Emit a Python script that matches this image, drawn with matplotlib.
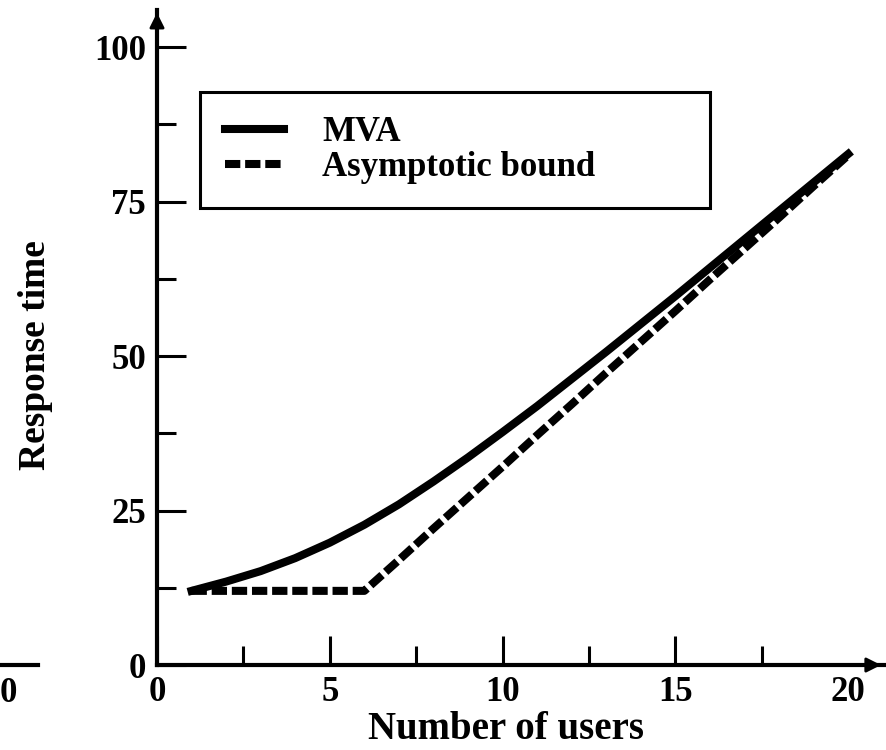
import matplotlib.pyplot as plt
from matplotlib.lines import Line2D
from matplotlib.ticker import MultipleLocator

# values
users = list(range(1, 21))
mva = [12.0, 13.5, 15.2, 17.3, 19.8, 22.7, 26.0, 29.7, 33.6, 37.7,
       41.9, 46.3, 50.7, 55.2, 59.7, 64.3, 68.9, 73.5, 78.1, 82.7]
bound = [12.0, 12.0, 12.0, 12.0, 12.0, 12.0, 17.0, 22.1, 27.1, 32.1,
         37.2, 42.2, 47.3, 52.3, 57.3, 62.4, 67.4, 72.4, 77.5, 82.5]
x_ticks = [0, 5, 10, 15, 20]
y_ticks = [0, 25, 50, 75, 100]

plt.rcParams['font.family'] = ['Liberation Serif', 'DejaVu Serif']
plt.rcParams['font.weight'] = 'bold'
plt.rcParams['axes.labelweight'] = 'bold'

fig = plt.figure(figsize=(8.86, 7.5), dpi=100)
ax = fig.add_axes([0.1772, 0.1133, 0.827, 0.8734])

ax.plot(users, mva, color='black', lw=5.8, label='MVA')
ax.plot(users, bound, color='black', lw=5.8, linestyle=(0, (1.9, 0.6)),
        label='Asymptotic bound')

ax.set_xlim(0, 21.2)
ax.set_ylim(0, 106)
ax.set_xticks(x_ticks)
ax.set_yticks(y_ticks)
ax.xaxis.set_minor_locator(MultipleLocator(2.5))
ax.yaxis.set_minor_locator(MultipleLocator(12.5))
ax.tick_params(which='both', direction='in', width=2.2, labelsize=25)
ax.tick_params(which='major', length=21)
ax.tick_params(which='minor', length=14)
ax.tick_params(axis='x', pad=8)
ax.tick_params(axis='y', pad=8)
ax.xaxis.get_major_ticks()[-1].tick1line.set_visible(False)

for side in ['top', 'right']:
    ax.spines[side].set_visible(False)
for side in ['left', 'bottom']:
    ax.spines[side].set_linewidth(3)

# arrow heads on the axes
ax.annotate('', xy=(0, 1.0), xycoords='axes fraction', xytext=(0, 0.96),
            arrowprops=dict(arrowstyle='-|>', color='black', lw=2, mutation_scale=22),
            annotation_clip=False)
ax.annotate('', xy=(0.992, 0), xycoords='axes fraction', xytext=(0.97, 0),
            arrowprops=dict(arrowstyle='-|>', color='black', lw=2, mutation_scale=22),
            annotation_clip=False)

ax.set_xlabel('Number of users', fontsize=28)
ax.xaxis.set_label_coords(0.476, -0.07)
ax.set_ylabel('Response time', fontsize=27)
ax.yaxis.set_label_coords(-0.142, 0.473)

leg = ax.legend(loc='upper left', bbox_to_anchor=(0.0592, 0.705, 0.695, 0.17),
                mode='expand', fancybox=False, edgecolor='black', framealpha=1,
                fontsize=25, handlelength=1.7, handletextpad=1.1,
                labelspacing=0.05, borderpad=0.7, borderaxespad=0)
leg.get_frame().set_linewidth(2.2)

# remnants of the neighbouring chart cut off at the left edge
fig.add_artist(Line2D([0, 38 / 886], [85 / 750, 85 / 750], color='black', lw=3))
fig.text(8 / 886, 73 / 750, '0', fontsize=25, ha='center', va='top')

fig.savefig('out.png', dpi=100)
